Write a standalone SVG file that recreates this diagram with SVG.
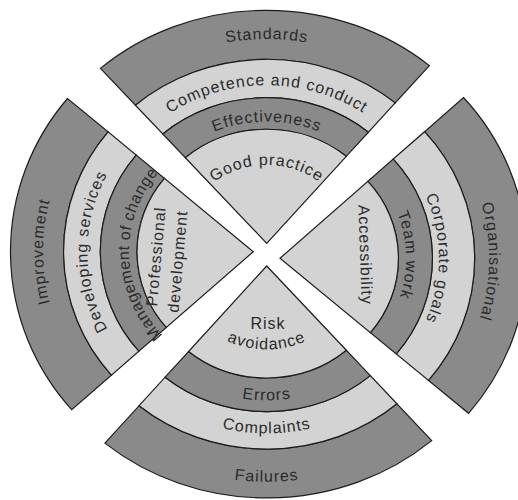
<svg xmlns="http://www.w3.org/2000/svg" xmlns:xlink="http://www.w3.org/1999/xlink" width="518" height="500" viewBox="0 0 518 500">
<style>
.dk{fill:#8a8a8a;stroke:#1c1c1c;stroke-width:1.2;stroke-linejoin:miter}
.lt{fill:#d3d3d3;stroke:#1c1c1c;stroke-width:1.2;stroke-linejoin:miter}
text{font-family:"Liberation Sans",Arial,sans-serif;font-size:16px;letter-spacing:1px;fill:#2b2b2b;text-anchor:middle}
.tight{letter-spacing:0.5px}
</style>
<defs>
<path id="tStandards" d="M53.4,190.4 A220.9 204.5 0 0 1 480,190.4"/>
<path id="tCompetence" d="M101.9,202.4 A170.6 158 0 0 1 431.5,202.4"/>
<path id="tEffect" d="M139.9,211.9 A131.2 121.5 0 0 1 393.5,211.9"/>
<path id="tGood" d="M185.3,223.1 A84.2 78 0 0 1 348.1,223.1"/>
<path id="tFailures" d="M41.4,321.9 A233.3 216 0 0 0 492,321.9"/>
<path id="tComplaints" d="M92,309.3 A180.9 167.5 0 0 0 441.4,309.3"/>
<path id="tErrors" d="M126.4,300.8 A145.3 134.5 0 0 0 407,300.8"/>
<path id="tAvoid" d="M179.6,287.6 A90.2 83.5 0 0 0 353.8,287.6"/>
<path id="tImprove" d="M198.9,450.7 A210.1 206 0 0 1 198.9,52.7"/>
<path id="tDevelop" d="M210.4,408.7 A165.8 162.5 0 0 1 210.4,94.7"/>
<path id="tManage" d="M221.1,369.5 A124.4 122 0 0 1 221.1,133.9"/>
<path id="tOrg" d="M334.1,62.2 A209.1 203 0 0 1 334.1,454.4"/>
<path id="tCorp" d="M321.2,109.1 A159.1 154.5 0 0 1 321.2,407.5"/>
<path id="tTeam" d="M312.7,140 A126.2 122.5 0 0 1 312.7,376.6"/>
</defs>
<rect width="518" height="500" fill="#ffffff"/>

<g id="standards">
<path class="dk" d="M100.4,68.4 A251.6 233 0 0 1 429.4,65.6 L395.2,102.9 A198.7 184 0 0 0 135.4,105.2 Z"/>
<text><textPath xlink:href="#tStandards" href="#tStandards" startOffset="50%">Standards</textPath></text>
</g>
<g id="competence-and-conduct">
<path class="lt" d="M135.4,105.2 A198.7 184 0 0 1 395.2,102.9 L368.4,132.2 A157.2 145.6 0 0 0 162.8,134 Z"/>
<text><textPath xlink:href="#tCompetence" href="#tCompetence" startOffset="50%">Competence and conduct</textPath></text>
</g>
<g id="effectiveness">
<path class="dk" d="M162.8,134 A157.2 145.6 0 0 1 368.4,132.2 L346.3,156.3 A123.1 114 0 0 0 185.3,157.7 Z"/>
<text><textPath xlink:href="#tEffect" href="#tEffect" startOffset="50%">Effectiveness</textPath></text>
</g>
<g id="good-practice">
<path class="lt" d="M185.3,157.7 A123.1 114 0 0 1 346.3,156.3 L266.7,243.3 Z"/>
<text><textPath xlink:href="#tGood" href="#tGood" startOffset="50%">Good practice</textPath></text>
</g>

<g id="failures">
<path class="dk" d="M104.9,443.1 A250.6 232 0 0 0 431.7,440.6 L396.9,403.8 A197.6 183 0 0 1 139.1,405.7 Z"/>
<text><textPath xlink:href="#tFailures" href="#tFailures" startOffset="50%">Failures</textPath></text>
</g>
<g id="complaints">
<path class="lt" d="M139.1,405.7 A197.6 183 0 0 0 396.9,403.8 L370.3,375.6 A157.4 145.7 0 0 1 165.1,377.2 Z"/>
<text><textPath xlink:href="#tComplaints" href="#tComplaints" startOffset="50%">Complaints</textPath></text>
</g>
<g id="errors">
<path class="dk" d="M165.1,377.2 A157.4 145.7 0 0 0 370.3,375.6 L346.4,350.3 A121 112 0 0 1 188.6,351.5 Z"/>
<text><textPath xlink:href="#tErrors" href="#tErrors" startOffset="50%">Errors</textPath></text>
</g>
<g id="risk-avoidance">
<path class="lt" d="M188.6,351.5 A121 112 0 0 0 346.4,350.3 L266.7,266 Z"/>
<text x="268" y="329">Risk</text>
<text><textPath xlink:href="#tAvoid" href="#tAvoid" startOffset="50%">avoidance</textPath></text>
</g>

<g id="improvement">
<path class="dk" d="M67.5,98.5 A242.8 238 0 0 0 71.7,409.7 L111.4,375.1 A189.7 186 0 0 1 108.1,131.9 Z"/>
<text><textPath xlink:href="#tImprove" href="#tImprove" startOffset="50%">Improvement</textPath></text>
</g>
<g id="developing-services">
<path class="lt" d="M108.1,131.9 A189.7 186 0 0 0 111.4,375.1 L138.9,351.2 A153 150 0 0 1 136.2,155.1 Z"/>
<text><textPath xlink:href="#tDevelop" href="#tDevelop" startOffset="50%">Developing services</textPath></text>
</g>
<g id="management-of-change">
<path class="dk" d="M136.2,155.1 A153 150 0 0 0 138.9,351.2 L166.3,327.4 A116.3 114 0 0 1 164.4,178.3 Z"/>
<text class="tight"><textPath xlink:href="#tManage" href="#tManage" startOffset="49%">Management of change</textPath></text>
</g>
<g id="professional-development">
<path class="lt" d="M164.4,178.3 A116.3 114 0 0 0 166.3,327.4 L253.3,251.7 Z"/>
<text x="161.4" y="257" transform="rotate(-85 161.4 257)">Professional</text>
<text x="183" y="262" transform="rotate(-85 183 262)">development</text>
</g>

<g id="organisational">
<path class="dk" d="M463.5,97.5 A247.2 240 0 0 1 468.6,413.3 L428.5,380.4 A194.7 189 0 0 0 424.6,131.7 Z"/>
<text><textPath xlink:href="#tOrg" href="#tOrg" startOffset="50.6%">Organisational</textPath></text>
</g>
<g id="corporate-goals">
<path class="lt" d="M424.6,131.7 A194.7 189 0 0 1 428.5,380.4 L396.3,353.9 A152.4 148 0 0 0 393.2,159.1 Z"/>
<text><textPath xlink:href="#tCorp" href="#tCorp" startOffset="50%">Corporate goals</textPath></text>
</g>
<g id="team-work">
<path class="dk" d="M393.2,159.1 A152.4 148 0 0 1 396.3,353.9 L370.4,332.6 A118.5 115 0 0 0 367.9,181.3 Z"/>
<text><textPath xlink:href="#tTeam" href="#tTeam" startOffset="49%">Team work</textPath></text>
</g>
<g id="accessibility">
<path class="lt" d="M367.9,181.3 A118.5 115 0 0 1 370.4,332.6 L280,258.3 Z"/>
<text x="360" y="255" transform="rotate(88 360 255)">Accessibility</text>
</g>
</svg>
